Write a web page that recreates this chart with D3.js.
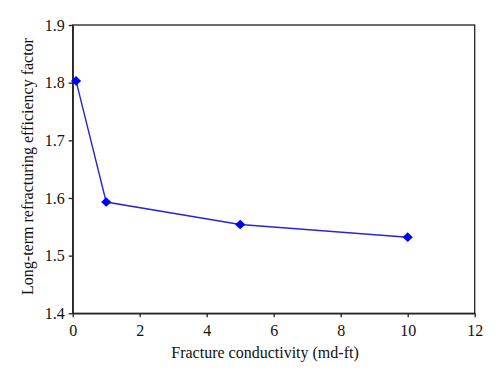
<!DOCTYPE html>
<html><head><meta charset="utf-8">
<script src="https://cdn.jsdelivr.net/npm/d3@7"></script>
<style>body{margin:0;background:#fff}svg{display:block}</style>
</head><body>
<svg id="c" width="500" height="382"></svg>
<script>
const conductivity = [0.1, 1, 5, 10];
const efficiency = [1.803, 1.593, 1.554, 1.532];
const xTicks = [0, 2, 4, 6, 8, 10, 12];
const yTicks = [1.4, 1.5, 1.6, 1.7, 1.8, 1.9];
const xTitle = "Fracture conductivity (md-ft)";
const yTitle = "Long-term refracturing efficiency factor";

const svg = d3.select("#c");
const m = {l: 72.7, r: 474.7, t: 25, b: 313.3};
const x = d3.scaleLinear().domain([0, 12]).range([m.l, m.r]);
const y = d3.scaleLinear().domain([1.4, 1.9]).range([m.b, m.t]);
const font = "'Liberation Serif','DejaVu Serif',serif";

// frame
svg.append("rect").attr("x", m.l).attr("y", m.t).attr("width", m.r - m.l).attr("height", m.b - m.t)
  .attr("fill", "none").attr("stroke", "#222").attr("stroke-width", 1.3);

const xa = svg.append("g").attr("transform", `translate(0,${m.b})`)
  .call(d3.axisBottom(x).tickValues(xTicks).tickFormat(d3.format("d")).tickSizeOuter(0).tickSizeInner(4).tickPadding(7));
const ya = svg.append("g").attr("transform", `translate(${m.l},0)`)
  .call(d3.axisLeft(y).tickValues(yTicks).tickFormat(d3.format(".1f")).tickSizeOuter(0).tickSizeInner(4).tickPadding(4));
[xa, ya].forEach(g => {
  g.select(".domain").attr("stroke", "#222").attr("stroke-width", 1.3);
  g.selectAll(".tick line").attr("stroke", "#222").attr("stroke-width", 1.3);
  g.selectAll(".tick text").attr("font-family", font).attr("font-size", 16).attr("fill", "#111");
});

svg.append("text").attr("x", 265).attr("y", 358).attr("text-anchor", "middle")
  .attr("font-family", font).attr("font-size", 16).attr("fill", "#111").text(xTitle);
svg.append("text").attr("transform", `translate(33,${(38 + 295) / 2}) rotate(-90)`).attr("text-anchor", "middle")
  .attr("font-family", font).attr("font-size", 16).attr("fill", "#111").text(yTitle);

const pts = conductivity.map((c, i) => [c, efficiency[i]]);
svg.append("path").datum(pts)
  .attr("d", d3.line().x(d => x(d[0])).y(d => y(d[1])))
  .attr("fill", "none").attr("stroke", "#2626d9").attr("stroke-width", 1.4);
svg.selectAll("path.mk").data(pts).join("path").attr("class", "mk")
  .attr("d", d3.symbol(d3.symbolDiamond2, 60))
  .attr("transform", d => `translate(${x(d[0])},${y(d[1])}) scale(1.05,1)`)
  .attr("fill", "#0000ff");
</script>
</body></html>
